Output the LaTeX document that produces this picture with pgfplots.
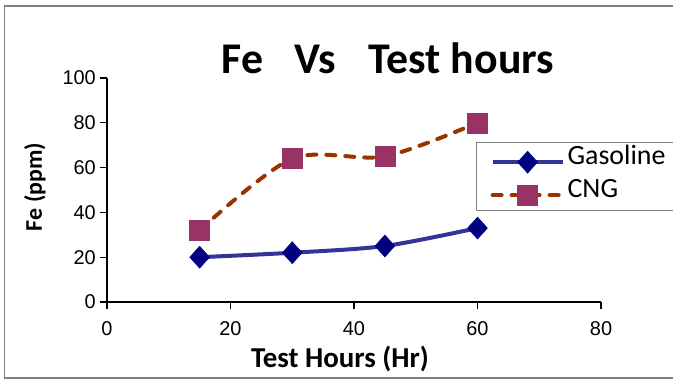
\documentclass[border=0pt]{standalone}
\usepackage{fontspec}
\usepackage{pgfplots}
\pgfplotsset{compat=1.18}
\setmainfont{Carlito}
\newfontfamily\arialf{Liberation Sans}
\newfontfamily\carlito{Carlito}
\definecolor{gasline}{HTML}{333399}
\definecolor{gasmark}{HTML}{000080}
\definecolor{cngline}{HTML}{993300}
\definecolor{cngmark}{HTML}{993366}
\definecolor{framegray}{HTML}{808080}
\begin{document}
\begin{tikzpicture}
\begin{axis}[
  at={(0,0)}, anchor=south west,
  scale only axis, width=494bp, height=224bp,
  xmin=0, xmax=80, ymin=0, ymax=100,
  xtick={0,20,40,60,80}, ytick={0,20,40,60,80,100},
  axis lines*=left,
  axis line style={black, line width=1.3bp},
  tick style={black, line width=1.3bp},
  tick align=outside, major tick length=7bp,
  /pgf/number format/assume math mode=true,
  ticklabel style={font=\arialf\fontsize{20}{20}\selectfont},
  yticklabel style={anchor=east, inner sep=0pt, xshift=-4bp},
  xticklabel style={anchor=north, inner sep=0pt, yshift=-12bp},
  clip=false,
  legend cell align=left,
  legend style={at={(0.747,0.714)}, anchor=north west,
    draw=framegray, line width=1.2bp,
    inner xsep=14bp, inner ysep=1bp, row sep=0bp,
    font=\carlito\fontsize{28}{28}\selectfont,
    nodes={inner xsep=3bp, inner ysep=2bp, text height=19bp, text depth=10bp, text width=112bp, align=left}},
  legend image code/.code={%
    \draw[#1, mark repeat=2, mark phase=2] plot coordinates {(0bp,-2bp) (35bp,-2bp) (70bp,-2bp)};},
]
\addplot[color=gasline, line width=4bp, smooth, tension=0.5,
  mark=diamond*, mark size=11bp,
  mark options={solid, fill=gasmark, draw=gasmark, line width=0.5bp, xscale=1.2}]
  coordinates {(15,20) (30,22) (45,25) (60,33)};
\addlegendentry{Gasoline}
\addplot[color=cngline, line width=4bp, smooth, tension=0.5,
  line cap=round, dash pattern=on 9bp off 10bp,
  mark=square*, mark size=10bp,
  mark options={solid, fill=cngmark, draw=cngmark, line width=0.5bp}]
  coordinates {(15,32) (30,64) (45,65) (60,80)};
\addlegendentry{CNG}
\end{axis}
\node[anchor=base, font=\carlito\bfseries\fontsize{44}{44}\selectfont] at (281bp,228bp) {Fe\hspace{0.7em}Vs\hspace{0.76em}Test hours};
\node[anchor=base, font=\carlito\bfseries\fontsize{29}{29}\selectfont] at (233bp,-65bp) {Test Hours (Hr)};
\node[rotate=90, anchor=center, font=\carlito\bfseries\fontsize{24}{24}\selectfont] at (-72bp,115bp) {Fe (ppm)};
\draw[framegray, line width=1.2bp] (600bp,296bp) -- (-102.5bp,296bp) -- (-102.5bp,-76bp) -- (600bp,-76bp);
\pgfresetboundingbox
\useasboundingbox (-107bp,-77bp) rectangle (566bp,302bp);
\end{tikzpicture}
\end{document}
